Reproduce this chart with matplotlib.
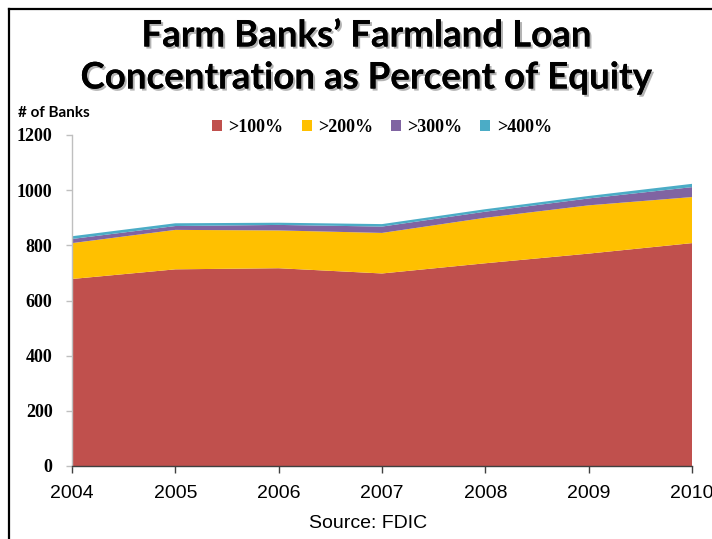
import matplotlib
matplotlib.use("Agg")
import matplotlib.pyplot as plt
import matplotlib.patheffects as pe
from matplotlib.lines import Line2D
from matplotlib.patches import Patch

years = [2004, 2005, 2006, 2007, 2008, 2009, 2010]
over100 = [678, 713, 717, 698, 735, 770, 808]
over200 = [130, 143, 137, 147, 165, 175, 167]
over300 = [15, 14, 20, 23, 22, 25, 36]
over400 = [10, 10, 8, 9, 9, 9, 12]
series_labels = [">100%", ">200%", ">300%", ">400%"]
colors = ["#C0504D", "#FFC000", "#8064A2", "#4BACC6"]
yticks = [0, 200, 400, 600, 800, 1000, 1200]

W, H = 712, 539
fig = plt.figure(figsize=(W / 100, H / 100), dpi=100)
ax = fig.add_axes([72 / W, (H - 466) / H, 620 / W, 331 / H])

ax.stackplot(years, over100, over200, over300, over400, colors=colors,
             labels=series_labels, linewidth=0)
ax.set_xlim(2004, 2010)
ax.set_ylim(0, 1200)
ax.set_yticks(yticks)
ax.set_xticks(years)

for s in ["top", "right"]:
    ax.spines[s].set_visible(False)
ax.spines["left"].set_color("#BFBFBF")
ax.spines["left"].set_linewidth(1.0)
ax.spines["bottom"].set_color("#404040")
ax.spines["bottom"].set_linewidth(1.0)
ax.tick_params(axis="y", direction="out", length=4, width=1, color="#BFBFBF", pad=10)
ax.tick_params(axis="x", direction="out", length=5, width=1, color="#404040", pad=9)
for lab in ax.get_yticklabels():
    lab.set_fontfamily("Liberation Serif")
    lab.set_fontweight("bold")
    lab.set_fontsize(13)
for lab in ax.get_xticklabels():
    lab.set_fontfamily("Liberation Sans")
    lab.set_fontsize(14)

handles = [Patch(facecolor=c, edgecolor="none") for c in colors]
leg = ax.legend(handles, series_labels, loc="upper center", bbox_to_anchor=(0.5, 1.097),
                ncol=4, frameon=False, handlelength=0.55, handleheight=0.55,
                handletextpad=0.35, columnspacing=1.0,
                prop={"family": "Liberation Serif", "weight": "bold", "size": 13})

fig.text(18 / W, 1 - 113 / H, "# of Banks", fontfamily="Lato", fontweight="bold",
         fontsize=11, ha="left", va="center")

shadow = [pe.withSimplePatchShadow(offset=(1.5, -1.5), shadow_rgbFace="#A0A0A0", alpha=0.8),
          pe.Normal()]
fig.text(366 / W, 1 - 36 / H, "Farm Banks\u2019 Farmland Loan", fontfamily="Lato",
         fontweight="bold", fontsize=26.4, ha="center", va="center", path_effects=shadow)
fig.text(366 / W, 1 - 78 / H, "Concentration as Percent of Equity", fontfamily="Lato",
         fontweight="bold", fontsize=26.4, ha="center", va="center", path_effects=shadow)

fig.text(368 / W, 1 - 523 / H, "Source: FDIC", fontfamily="Liberation Sans",
         fontsize=14, ha="center", va="center")

# frame lines
fig.add_artist(Line2D([9 / W, 1.0], [1 - 9 / H, 1 - 9 / H], transform=fig.transFigure,
                      color="black", linewidth=1.6))
fig.add_artist(Line2D([9 / W, 9 / W], [0, 1 - 9 / H], transform=fig.transFigure,
                      color="black", linewidth=1.6))

fig.savefig("out.png", dpi=100)
